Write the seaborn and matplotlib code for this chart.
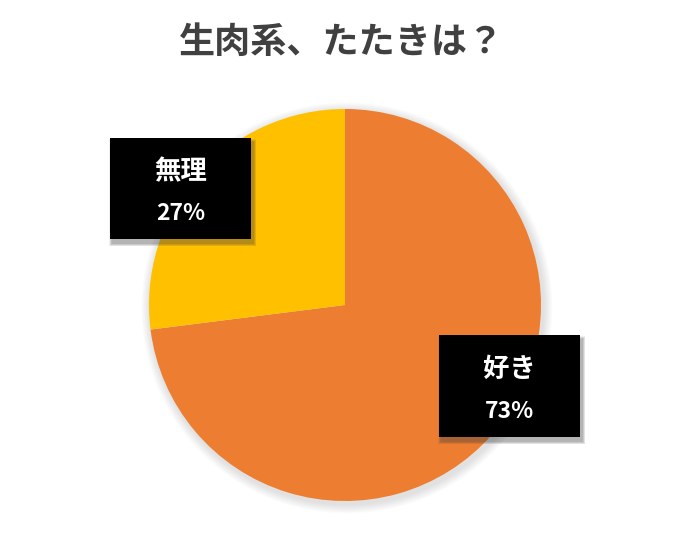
import matplotlib
matplotlib.use("Agg")
import matplotlib.pyplot as plt
import matplotlib.patches as mpatches
import seaborn as sns

categories = ["好き", "無理"]
values = [73, 27]
colors = ["#ED7D31", "#FFC000"]
title = "生肉系、たたきは？"

sns.set_theme(style="white")
plt.rcParams['font.family'] = ['Noto Sans CJK JP', 'DejaVu Sans']

W, H = 682, 539
fig = plt.figure(figsize=(W / 100, H / 100), dpi=100)
fig.patch.set_facecolor("white")

cx, cy, r = 345, 305, 196
pad = 20
ax = fig.add_axes([(cx - r - pad) / W, (H - cy - r - pad) / H, 2 * (r + pad) / W, 2 * (r + pad) / H])
scale = (r + pad) / r
# soft shadow behind the pie
for i in range(8):
    ax.add_patch(mpatches.Circle((0.01, -0.015), 1.0 + 0.006 * (8 - i), facecolor="#888888",
                                 alpha=0.03, edgecolor="none", zorder=0))
wedges, _ = ax.pie(values, colors=colors, startangle=90, counterclock=False,
                   radius=1.0, wedgeprops=dict(linewidth=0))
for w in wedges:
    w.set_zorder(2)
ax.set_xlim(-scale, scale)
ax.set_ylim(-scale, scale)
ax.set_aspect("equal")
ax.axis("off")

fig.text(0.5, 1 - 42 / H, title, ha="center", va="center", fontsize=26,
         fontweight="bold", color="#404040")

def label_box(x0, y0, x1, y1, name, pct, yn, yp):
    for i in range(6):
        g = 6 - i
        sh = mpatches.Rectangle(((x0 + 2 - g * 0.5) / W, 1 - (y1 + 4 + g * 0.5) / H),
                                (x1 - x0 + g) / W, (y1 - y0 + g) / H,
                                transform=fig.transFigure, facecolor="#404040",
                                edgecolor="none", alpha=0.08, zorder=4)
        fig.add_artist(sh)
    rect = mpatches.Rectangle((x0 / W, 1 - y1 / H), (x1 - x0) / W, (y1 - y0) / H,
                              transform=fig.transFigure, facecolor="black",
                              edgecolor="none", zorder=5)
    fig.add_artist(rect)
    xc = (x0 + x1) / 2
    fig.text(xc / W, 1 - yn / H, name, ha="center", va="center",
             color="white", fontsize=19, fontweight="bold", zorder=6)
    fig.text(xc / W, 1 - yp / H, pct, ha="center", va="center",
             color="white", fontsize=16.5, fontweight="bold", zorder=6)

label_box(110, 138, 251, 239, categories[1], f"{values[1]}%", 172, 213)
label_box(439, 335, 580, 437, categories[0], f"{values[0]}%", 369, 411)

fig.savefig("out.png", dpi=100, facecolor="white")
